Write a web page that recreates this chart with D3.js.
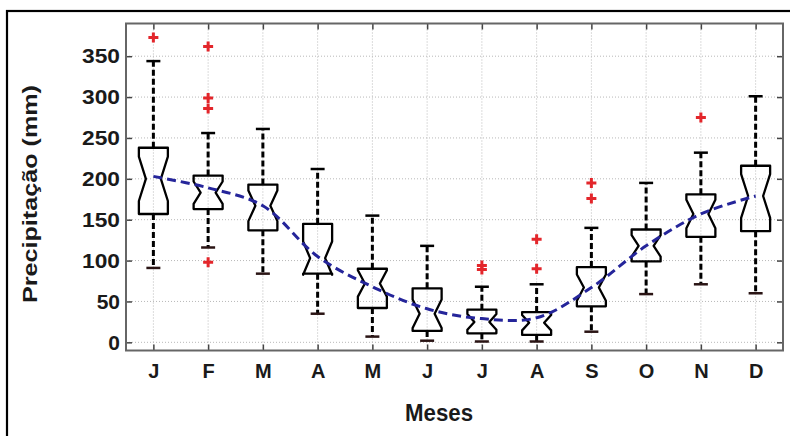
<!DOCTYPE html>
<html>
<head>
<meta charset="utf-8">
<script src="https://cdn.jsdelivr.net/npm/d3@7"></script>
<style>
  body { margin: 0; background: #fff; }
  svg { display: block; }
  text { font-family: "Liberation Sans", Arial, sans-serif; font-weight: bold; fill: #1a1a1a; }
</style>
</head>
<body>
<div id="chart"></div>
<script>
const months = ["J", "F", "M", "A", "M", "J", "J", "A", "S", "O", "N", "D"];
const whiskerLow  = [91, 116, 84, 35, 7, 2, 1, 1, 13, 59, 71, 60];
const q1          = [157, 163, 137, 84, 42, 14, 11, 9, 44, 99, 129, 136];
const medians     = [200, 183, 167, 103, 72, 35, 25, 24, 67, 118, 157, 179];
const q3          = [238, 204, 193, 145, 90, 66, 40, 37, 92, 138, 181, 216];
const whiskerHigh = [344, 256, 261, 212, 155, 118, 68, 71, 140, 195, 232, 301];
const outliers    = [[373], [362, 299, 286, 98], [], [], [], [], [94, 89], [126, 90], [195, 176], [], [275], []];
const trend       = [203, 189, 167, 105, 68, 41, 29, 30, 67, 118, 157, 179];
const yTicks      = [0, 50, 100, 150, 200, 250, 300, 350];
const nYears = 22;

const width = 790, height = 436;
const plotLeft = 126, plotRight = 783, plotTop = 23.5, plotBottom = 350.5;

const svg = d3.select('#chart')
    .append('svg')
    .attr('width', width)
    .attr('height', height);

// outer frame
svg.append('rect')
    .attr('x', 7).attr('y', 11)
    .attr('width', 820).attr('height', 500)
    .attr('fill', 'none')
    .attr('stroke', '#000')
    .attr('stroke-width', 2.2);

const x = d3.scaleLinear().domain([0.5, 12.5]).range([plotLeft, plotRight]);
const y = d3.scaleLinear().domain([-10, 390]).range([plotBottom, plotTop]);

const idx = d3.range(1, 13);

// grid
svg.append('g').selectAll('line').data(idx).enter().append('line')
    .attr('x1', d => x(d)).attr('x2', d => x(d))
    .attr('y1', plotTop).attr('y2', plotBottom)
    .attr('stroke', '#b8b8b8').attr('stroke-dasharray', '1,2');
svg.append('g').selectAll('line').data(yTicks).enter().append('line')
    .attr('x1', plotLeft).attr('x2', plotRight)
    .attr('y1', d => y(d)).attr('y2', d => y(d))
    .attr('stroke', '#b8b8b8').attr('stroke-dasharray', '1,2');

// axes
const axisStyle = g => {
    g.select('.domain').remove();
    g.selectAll('.tick line').attr('stroke', '#444').attr('stroke-width', 1.5);
};
svg.append('g')
    .attr('transform', `translate(${plotLeft},0)`)
    .call(d3.axisLeft(y).tickValues(yTicks).tickSize(-6).tickPadding(6))
    .call(axisStyle)
    .selectAll('text').style('font-size', '21px').attr('fill', '#1a1a1a')
    .attr('textLength', 38).attr('lengthAdjust', 'spacingAndGlyphs')
    .filter(d => d < 100).attr('textLength', null);
svg.append('g')
    .attr('transform', `translate(${plotRight},0)`)
    .call(d3.axisRight(y).tickValues(yTicks).tickSize(-6).tickFormat(''))
    .call(axisStyle);
svg.append('g')
    .attr('transform', `translate(0,${plotBottom})`)
    .call(d3.axisBottom(x).tickValues(idx).tickSize(-6).tickPadding(13).tickFormat(d => months[d - 1]))
    .call(axisStyle)
    .selectAll('text').style('font-size', '20px').attr('fill', '#1a1a1a');
svg.append('g')
    .attr('transform', `translate(0,${plotTop})`)
    .call(d3.axisTop(x).tickValues(idx).tickSize(-6).tickFormat(''))
    .call(axisStyle);

// plot border
svg.append('rect')
    .attr('x', plotLeft).attr('y', plotTop)
    .attr('width', plotRight - plotLeft).attr('height', plotBottom - plotTop)
    .attr('fill', 'none')
    .attr('stroke', '#666')
    .attr('stroke-width', 2);

// boxes
const boxW = 14.5, waistW = 7.5, capW = 7;
const boxes = svg.append('g').selectAll('g').data(idx).enter().append('g');

boxes.append('line')
    .attr('x1', d => x(d)).attr('x2', d => x(d))
    .attr('y1', d => y(q3[d - 1])).attr('y2', d => y(whiskerHigh[d - 1]))
    .attr('stroke', '#000').attr('stroke-width', 3).attr('stroke-dasharray', '6,3');
boxes.append('line')
    .attr('x1', d => x(d)).attr('x2', d => x(d))
    .attr('y1', d => y(q1[d - 1])).attr('y2', d => y(whiskerLow[d - 1]))
    .attr('stroke', '#000').attr('stroke-width', 3).attr('stroke-dasharray', '6,3');
boxes.append('line')
    .attr('x1', d => x(d) - capW).attr('x2', d => x(d) + capW)
    .attr('y1', d => y(whiskerHigh[d - 1])).attr('y2', d => y(whiskerHigh[d - 1]))
    .attr('stroke', '#000').attr('stroke-width', 2.5);
boxes.append('line')
    .attr('x1', d => x(d) - capW).attr('x2', d => x(d) + capW)
    .attr('y1', d => y(whiskerLow[d - 1])).attr('y2', d => y(whiskerLow[d - 1]))
    .attr('stroke', '#2a1414').attr('stroke-width', 2.5);

boxes.append('path')
    .attr('d', d => {
        const i = d - 1, cx = x(d);
        const notch = 1.57 * (q3[i] - q1[i]) / Math.sqrt(nYears);
        const nt = y(medians[i] + notch), nb = y(medians[i] - notch), m = y(medians[i]);
        const t = y(q3[i]), b = y(q1[i]);
        return `M${cx - boxW},${t}L${cx + boxW},${t}L${cx + boxW},${nt}L${cx + waistW},${m}` +
            `L${cx + boxW},${nb}L${cx + boxW},${b}L${cx - boxW},${b}L${cx - boxW},${nb}` +
            `L${cx - waistW},${m}L${cx - boxW},${nt}Z`;
    })
    .attr('fill', 'none')
    .attr('stroke', '#000')
    .attr('stroke-width', 2.3)
    .attr('stroke-linejoin', 'round');

// outliers
const outPts = idx.flatMap(d => outliers[d - 1].map(v => ({ m: d, v })));
svg.append('g').selectAll('path').data(outPts).enter().append('path')
    .attr('d', p => `M${x(p.m) - 5},${y(p.v)}h10M${x(p.m)},${y(p.v) - 5}v10`)
    .attr('stroke', '#e3262b')
    .attr('stroke-width', 3);

// trend line
const line = d3.line()
    .x(d => x(d))
    .y(d => y(trend[d - 1]))
    .curve(d3.curveCatmullRom);
svg.append('path')
    .attr('d', line(idx))
    .attr('fill', 'none')
    .attr('stroke', '#25259a')
    .attr('stroke-width', 3)
    .attr('stroke-dasharray', '9,5');

// labels
svg.append('text')
    .text('Precipitação (mm)')
    .attr('transform', 'translate(37,194) rotate(-90)')
    .attr('text-anchor', 'middle')
    .attr('textLength', 218)
    .attr('lengthAdjust', 'spacingAndGlyphs')
    .style('font-size', '21px');
svg.append('text')
    .text('Meses')
    .attr('x', 439).attr('y', 421)
    .attr('text-anchor', 'middle')
    .attr('textLength', 68)
    .attr('lengthAdjust', 'spacingAndGlyphs')
    .style('font-size', '23px');
</script>
</body>
</html>
